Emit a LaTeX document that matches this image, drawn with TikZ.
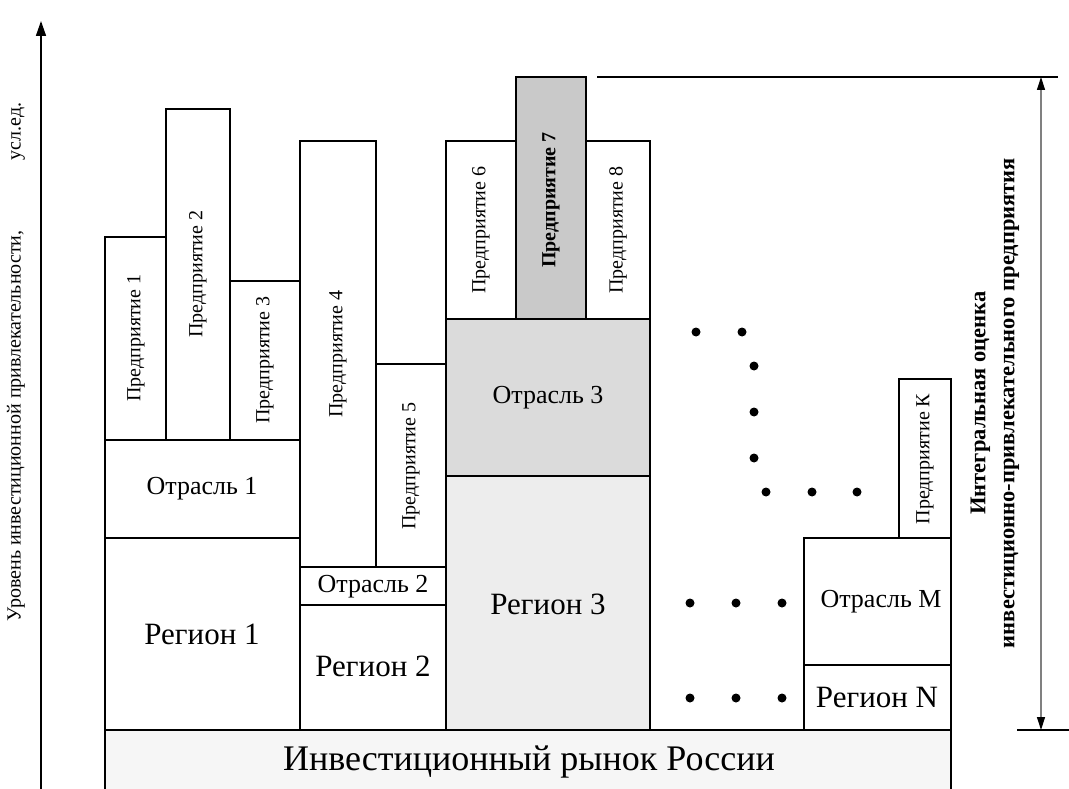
\documentclass[tikz,border=0pt]{standalone}
\usepackage{fontspec}
\setmainfont{Liberation Serif}
\usetikzlibrary{arrows.meta}
\definecolor{basegray}{gray}{0.965}
\definecolor{reggray}{gray}{0.93}
\definecolor{branchgray}{gray}{0.86}
\definecolor{firmgray}{gray}{0.79}
\tikzset{
  blk/.style={draw=black,line width=1.5pt},
  firm/.style={rotate=90,inner sep=0pt,font=\fontsize{20}{22}\selectfont},
  branch/.style={inner sep=0pt,font=\fontsize{26}{28}\selectfont},
  region/.style={inner sep=0pt,font=\fontsize{31}{33}\selectfont},
}

\begin{document}
\begin{tikzpicture}[x=1pt,y=-1pt]
\useasboundingbox[fill=white] (0,0) rectangle (1069,789);
% Drawing axis
\coordinate (axisbot) at (41,800);
\coordinate (axistop) at (41,21);
\draw[line width=1.5pt,-{Triangle[length=15pt,width=10pt]}] (axisbot) -- (axistop);
\node[firm,font=\fontsize{20}{22}\selectfont] (axislabel) at (16,362) {Уровень инвестиционной привлекательности,\hspace{70pt}усл.ед.};
% Base
\draw[blk,fill=basegray] (105,730) rectangle (951,800);
\node[font=\fontsize{36}{38}\selectfont,inner sep=0pt] (market) at (529,762) {Инвестиционный рынок России};
% Region 1
\draw[blk] (105,538) rectangle (300,730);
\node[region] (reg1) at (202,634) {Регион 1};
\draw[blk] (105,440) rectangle (300,538);
\node[branch] (br1) at (202,489) {Отрасль 1};
\draw[blk] (105,237) rectangle (166,440);
\node[firm] (f1) at (136,338) {Предприятие 1};
\draw[blk] (166,109) rectangle (230,440);
\node[firm] (f2) at (198,274) {Предприятие 2};
\draw[blk] (230,281) rectangle (300,440);
\node[firm] (f3) at (265,360) {Предприятие 3};
% Region 2
\draw[blk] (300,605) rectangle (446,730);
\node[region] (reg2) at (373,666) {Регион 2};
\draw[blk] (300,567) rectangle (446,605);
\node[branch] (br2) at (373,587) {Отрасль 2};
\draw[blk] (300,141) rectangle (376,567);
\node[firm] (f4) at (338,354) {Предприятие 4};
\draw[blk] (376,364) rectangle (446,567);
\node[firm] (f5) at (411,466) {Предприятие 5};
% Region 3
\draw[blk,fill=reggray] (446,476) rectangle (650,730);
\node[region] (reg3) at (548,604) {Регион 3};
\draw[blk,fill=branchgray] (446,319) rectangle (650,476);
\node[branch] (br3) at (548,398) {Отрасль 3};
\draw[blk] (446,141) rectangle (516,319);
\node[firm] (f6) at (481,230) {Предприятие 6};
\draw[blk,fill=firmgray] (516,77) rectangle (586,319);
\node[firm,font=\fontsize{20}{22}\selectfont\bfseries] (f7) at (551,200) {Предприятие 7};
\draw[blk] (586,141) rectangle (650,319);
\node[firm] (f8) at (618,230) {Предприятие 8};
% Region N
\draw[blk] (804,665) rectangle (951,730);
\node[region] (regN) at (877,697) {Регион N};
\draw[blk] (804,538) rectangle (951,665);
\node[branch] (brM) at (881,602) {Отрасль M};
\draw[blk] (899,379) rectangle (951,538);
\node[firm] (fK) at (925,459) {Предприятие К};
% Dots
\foreach \x/\y in {696/332,742/332,754/366,754/412,754/458,766/492,812/492,857/492,
                   690/603,736/603,782/603,690/698,736/698,782/698}
  \fill (\x,\y) circle (4.5pt);
% Dimension line
\coordinate (topl) at (597,77);
\coordinate (topr) at (1058,77);
\coordinate (botl) at (1017,730);
\coordinate (botr) at (1069,730);
\draw[line width=1.5pt] (topl) -- (topr);
\draw[line width=1.5pt] (botl) -- (botr);
\coordinate (dimtop) at (1041,77);
\coordinate (dimbot) at (1041,730);
\draw[gray,line width=1.2pt,{Triangle[length=13pt,width=8pt,black]}-{Triangle[length=13pt,width=8pt,black]}] (dimtop) -- (dimbot);
\node[firm,font=\fontsize{22.5}{29}\selectfont\bfseries,align=center] (score) at (995,403) {Интегральная оценка\\инвестиционно-привлекательного предприятия};
\end{tikzpicture}
\end{document}
